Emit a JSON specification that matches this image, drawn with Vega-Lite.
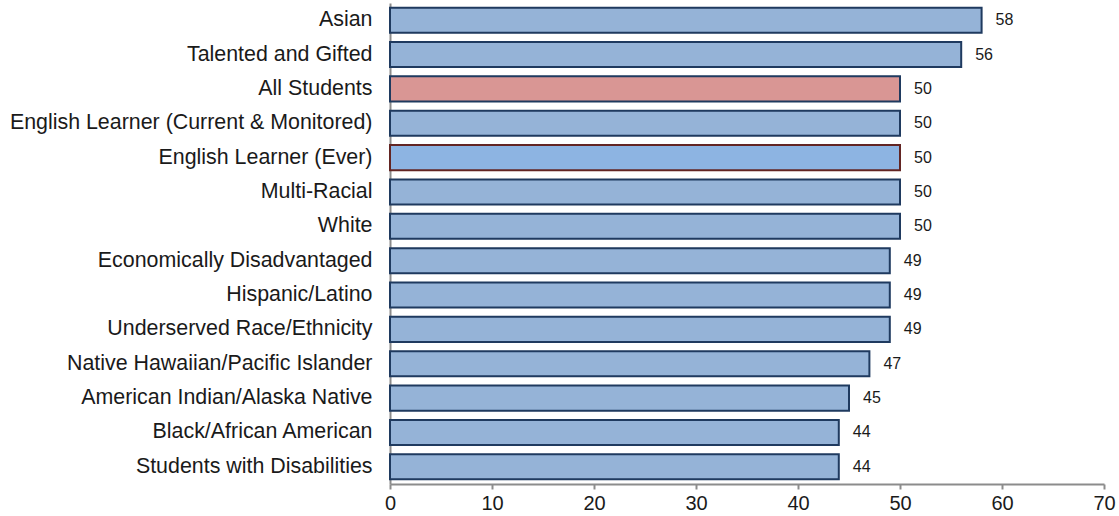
{
  "$schema": "https://vega.github.io/schema/vega-lite/v6.json",
  "autosize": {"type": "none"},
  "width": 714,
  "height": 481,
  "padding": {"left": 390, "top": 3, "right": 15, "bottom": 32},
  "background": "white",
  "config": {"view": {"stroke": null}, "font": "Liberation Sans"},
  "data": {"values": [
    {"group": "Asian", "value": 58, "kind": "other"},
    {"group": "Talented and Gifted", "value": 56, "kind": "other"},
    {"group": "All Students", "value": 50, "kind": "all"},
    {"group": "English Learner (Current & Monitored)", "value": 50, "kind": "other"},
    {"group": "English Learner (Ever)", "value": 50, "kind": "ever"},
    {"group": "Multi-Racial", "value": 50, "kind": "other"},
    {"group": "White", "value": 50, "kind": "other"},
    {"group": "Economically Disadvantaged", "value": 49, "kind": "other"},
    {"group": "Hispanic/Latino", "value": 49, "kind": "other"},
    {"group": "Underserved Race/Ethnicity", "value": 49, "kind": "other"},
    {"group": "Native Hawaiian/Pacific Islander", "value": 47, "kind": "other"},
    {"group": "American Indian/Alaska Native", "value": 45, "kind": "other"},
    {"group": "Black/African American", "value": 44, "kind": "other"},
    {"group": "Students with Disabilities", "value": 44, "kind": "other"}
  ]},
  "encoding": {
    "y": {"field": "group", "type": "nominal", "sort": null,
      "scale": {"paddingInner": 0.27, "paddingOuter": 0.135},
      "axis": {"title": null, "labelFontSize": 21.4, "labelColor": "#1a1a1a", "labelPadding": 18, "labelLimit": 400,
        "ticks": false, "domainColor": "#8c8c8c", "domainWidth": 2}},
    "x": {"field": "value", "type": "quantitative",
      "scale": {"domain": [0, 70], "nice": false},
      "axis": {"title": null, "values": [0,10,20,30,40,50,60,70], "grid": false, "labelFontSize": 20, "labelColor": "#1a1a1a",
        "labelFlush": false, "labelOverlap": false, "labelBound": false,
        "domainColor": "#8c8c8c", "domainWidth": 2, "tickColor": "#8c8c8c", "tickWidth": 2, "tickSize": 5, "labelPadding": 4}},
    "text": {"field": "value", "type": "quantitative"}
  },
  "layer": [
    {"mark": {"type": "bar", "strokeWidth": 2},
      "encoding": {
        "text": null,
        "fill": {"field": "kind", "type": "nominal", "legend": null,
          "scale": {"domain": ["other", "all", "ever"], "range": ["#95b3d7", "#d99694", "#8db4e2"]}},
        "stroke": {"field": "kind", "type": "nominal", "legend": null,
          "scale": {"domain": ["other", "all", "ever"], "range": ["#1f3a5f", "#1f3a5f", "#632523"]}}
      }},
    {"mark": {"type": "text", "align": "left", "dx": 14, "fontSize": 16, "color": "#1a1a1a"}}
  ]
}
